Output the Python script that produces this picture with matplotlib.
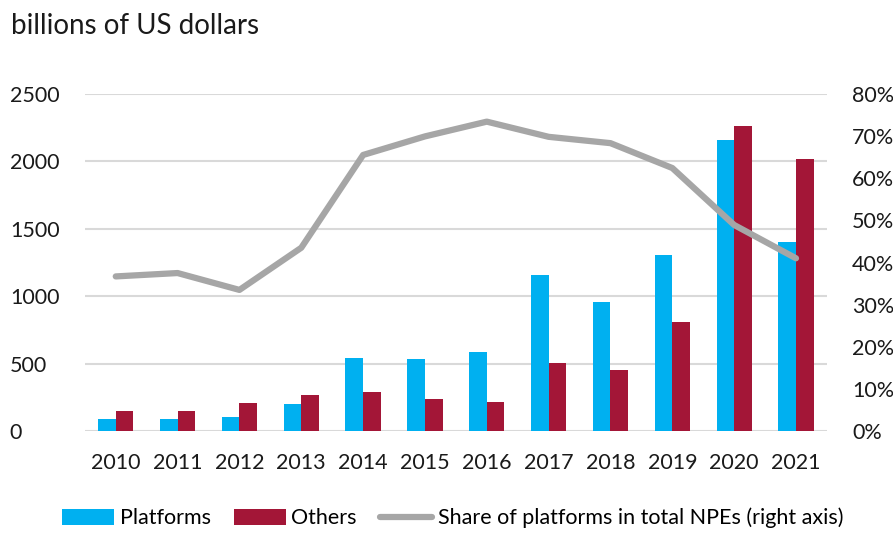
import numpy as np
import matplotlib.pyplot as plt
from matplotlib.ticker import FuncFormatter

# data (billions of US dollars / share in %)
years = ["2010", "2011", "2012", "2013", "2014", "2015",
         "2016", "2017", "2018", "2019", "2020", "2021"]
platforms = [89, 87, 104, 205, 541, 536, 586, 1155, 955, 1308, 2159, 1402]
others = [150, 148, 208, 265, 287, 235, 215, 504, 450, 806, 2265, 2018]
share = [36.7, 37.5, 33.5, 43.5, 65.5, 69.9, 73.4, 69.8, 68.3, 62.4, 48.9, 41.0]

plt.rcParams['font.family'] = ['Lato', 'DejaVu Sans']

fig = plt.figure(figsize=(8.93, 5.33), dpi=100)
ax = fig.add_axes([0.095, 0.191, 0.831, 0.633])
ax2 = ax.twinx()

x = np.arange(len(years))
w = 0.285
b1 = ax.bar(x - w/2, platforms, w, color='#00B0F0', label='Platforms', zorder=2)
b2 = ax.bar(x + w/2, others, w, color='#A31637', label='Others', zorder=2)
ln, = ax2.plot(x, share, color='#A6A6A6', lw=4.5, solid_capstyle='round',
               label='Share of platforms in total NPEs (right axis)')

ax.set_xlim(-0.5, len(years) - 0.5)
ax.set_ylim(0, 2500)
ax.set_yticks(range(0, 2501, 500))
ax2.set_ylim(0, 80)
ax2.set_yticks(range(0, 81, 10))
ax2.yaxis.set_major_formatter(FuncFormatter(lambda v, p: f"{int(v)}%"))

ax.set_xticks(x)
ax.set_xticklabels(years)
ax.grid(axis='y', color='#D9D9D9', lw=1.5, zorder=0)
ax.set_axisbelow(True)

for a in (ax, ax2):
    for s in a.spines.values():
        s.set_visible(False)
    a.tick_params(length=0, labelsize=15.5, colors='#1a1a1a')
ax.tick_params(axis='y', pad=54)
ax.tick_params(axis='x', pad=16)
ax2.tick_params(axis='y', pad=18)
for t in ax.get_yticklabels():
    t.set_horizontalalignment('left')

fig.text(0.012, 0.951, "billions of US dollars", fontsize=20, va='center', color='#1a1a1a')

fig.legend(handles=[b1, b2, ln], loc='center', bbox_to_anchor=(0.507, 0.028), ncol=3,
           frameon=False, fontsize=15.5, handlelength=2.4, handleheight=0.75,
           columnspacing=1.1, handletextpad=0.25)

fig.savefig("out.png", dpi=100)
